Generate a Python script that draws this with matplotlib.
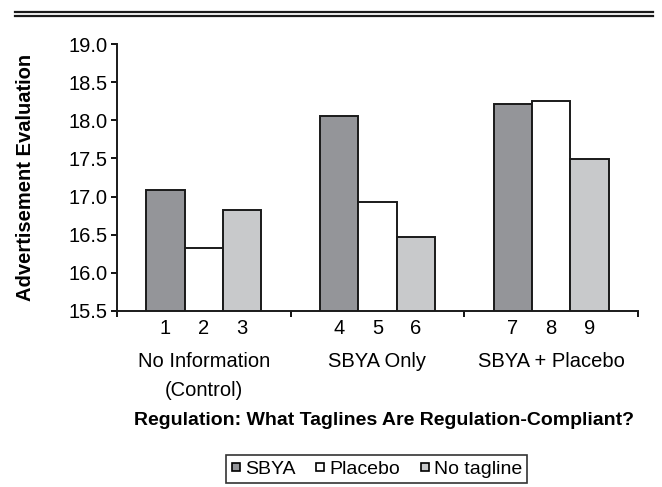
import matplotlib
matplotlib.use("Agg")
import matplotlib.pyplot as plt
from matplotlib.lines import Line2D
import numpy as np

plt.rcParams['font.family'] = ['Liberation Sans', 'DejaVu Sans']

grupos = ["No Information\n(Control)", "SBYA Only", "SBYA + Placebo"]
series = ["SBYA", "Placebo", "No tagline"]
numeros = ["1", "2", "3", "4", "5", "6", "7", "8", "9"]
sbya = [17.09, 18.06, 18.21]
placebo = [16.33, 16.93, 18.25]
no_tagline = [16.82, 16.47, 17.49]

colores = ["#949599", "#ffffff", "#c8c9cb"]

fig = plt.figure(figsize=(6.62, 4.87), dpi=100)
ax = fig.add_axes([0.1767, 0.3614, 0.787, 0.548])

x = np.arange(len(grupos))
ancho = 0.221
valores = [sbya, placebo, no_tagline]
pos_barras = []
for i, (nombre, vals) in enumerate(zip(series, valores)):
    pos = x + (i - 1) * ancho
    ax.bar(pos, np.array(vals) - 15.5, bottom=15.5, width=ancho,
           color=colores[i], edgecolor="#1a1a1a", linewidth=1.4, zorder=3)
    pos_barras.append(pos)

pos_todas = np.sort(np.concatenate(pos_barras))
yt = np.arange(15.5, 19.01, 0.5)
ax.set_xlim(-0.5, 2.5)
ax.set_ylim(15.5, 19.0)
ax.set_yticks(yt)
ax.set_yticklabels([f"{v:.1f}" for v in yt], fontsize=14.5)
ax.set_xticks(pos_todas)
ax.set_xticklabels(numeros, fontsize=14.5)
ax.set_xticks([-0.5, 0.5, 1.5, 2.5], minor=True)
ax.tick_params(axis="x", which="major", length=0, pad=6)
ax.tick_params(axis="x", which="minor", length=4, width=1.3, direction="out")
ax.tick_params(axis="y", length=4, width=1.3, direction="out", pad=3)

for s in ["top", "right"]:
    ax.spines[s].set_visible(False)
for s in ["left", "bottom"]:
    ax.spines[s].set_linewidth(1.4)
    ax.spines[s].set_color("#1a1a1a")

for xi, g in zip(x, grupos):
    fig.text(ax.transData.transform((xi, 15.5))[0] / fig.bbox.width, 0.277, g,
             ha="center", va="top", fontsize=14.5, linespacing=1.65)

ax.set_ylabel("Advertisement Evaluation", fontsize=14.5, fontweight="bold")
ax.yaxis.set_label_coords(-0.158, 0.5)
fig.text(0.58, 0.137, "Regulation: What Taglines Are Regulation-Compliant?",
         ha="center", va="center", fontsize=14, fontweight="bold")

handles = [Line2D([], [], marker="s", linestyle="none", markersize=5.5,
                  markerfacecolor=c, markeredgecolor="black", markeredgewidth=1.2)
           for c in colores]
leg = fig.legend(handles, series, loc="center", bbox_to_anchor=(0.569, 0.037),
                 ncol=3, fontsize=14, frameon=True, fancybox=False,
                 handlelength=0.5, handletextpad=0.2, columnspacing=1.05,
                 borderpad=0.25, borderaxespad=0)
leg.get_frame().set_edgecolor("black")
leg.get_frame().set_linewidth(1.2)

# doble linea superior
fig.add_artist(Line2D([0.0227, 0.986], [0.9754, 0.9754], color="#1a1a1a", linewidth=1.6))
fig.add_artist(Line2D([0.0227, 0.986], [0.9662, 0.9662], color="#1a1a1a", linewidth=1.6))

fig.savefig("out.png", dpi=100)
